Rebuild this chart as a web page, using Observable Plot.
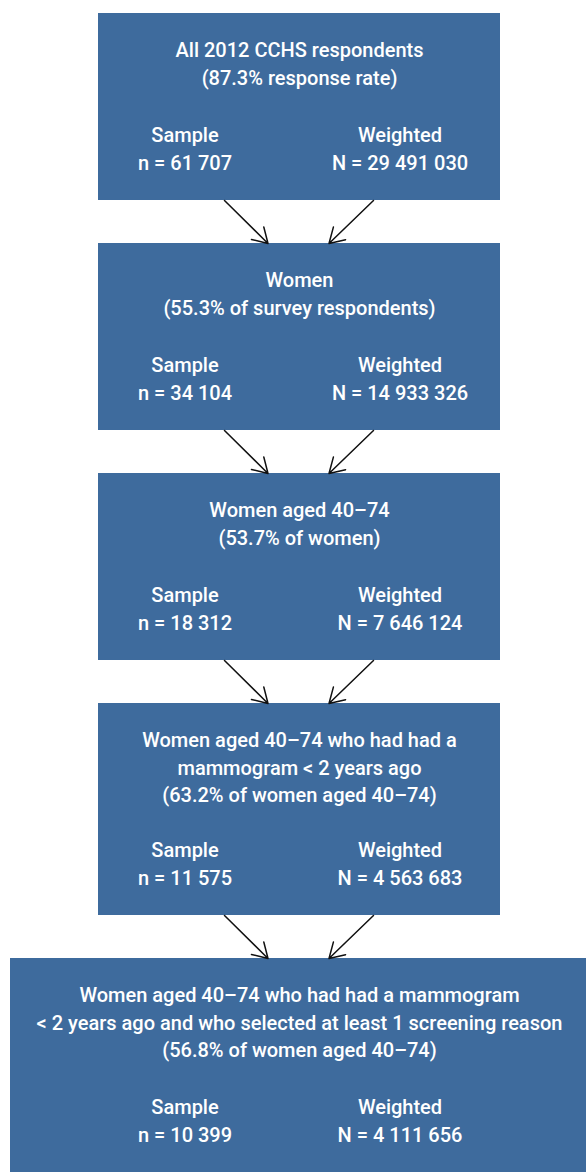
<!DOCTYPE html>
<html>
<head>
<meta charset="utf-8">
<script src="https://cdn.jsdelivr.net/npm/d3@7"></script>
<script src="https://cdn.jsdelivr.net/npm/@observablehq/plot@0.6"></script>
<style>
  html, body { margin: 0; padding: 0; background: #ffffff; }
  #chart svg { display: block; }
</style>
</head>
<body>
<div id="chart"></div>
<script>
// ---- Data ----
const stageLabels = [
  "All 2012 CCHS respondents",
  "Women",
  "Women aged 40–74",
  "Women aged 40–74 who had had a\nmammogram < 2 years ago",
  "Women aged 40–74 who had had a mammogram\n< 2 years ago and who selected at least 1 screening reason"
];
const percentLabels = [
  "87.3% response rate",
  "55.3% of survey respondents",
  "53.7% of women",
  "63.2% of women aged 40–74",
  "56.8% of women aged 40–74"
];
const sampleN = [61707, 34104, 18312, 11575, 10399];
const weightedN = [29491030, 14933326, 7646124, 4563683, 4111656];
const columnHeaders = ["Sample", "Weighted"];

// ---- Layout (computed) ----
const W = 586, H = 1172;
const fmt = v => String(v).replace(/\B(?=(\d{3})+(?!\d))/g, " ");
const boxes = [];
let boxTop = 13;
stageLabels.forEach((label, i) => {
  const lines = label.split("\n").concat([`(${percentLabels[i]})`]);
  const h = lines.length > 2 ? 212 : 187;
  const last = i === stageLabels.length - 1;
  const x1 = last ? 10 : 98;
  const x2 = last ? 586 : 500;
  const y2 = last ? H : boxTop + h;
  boxes.push({i, lines, x1, x2, y1: boxTop, y2, cx: 299});
  boxTop = y2 + 43;
});

const texts = [];
boxes.forEach(b => {
  b.lines.forEach((t, k) => texts.push({x: b.cx, y: b.y1 + 37.5 + k * 27.5, t}));
  texts.push({x: 184.5, y: b.y2 - 65, t: columnHeaders[0]});
  texts.push({x: 399.5, y: b.y2 - 65, t: columnHeaders[1]});
  texts.push({x: 184.5, y: b.y2 - 37, t: `n = ${fmt(sampleN[b.i])}`});
  texts.push({x: 399.5, y: b.y2 - 37, t: `N = ${fmt(weightedN[b.i])}`});
});

const arrows = [];
for (let i = 0; i < boxes.length - 1; i++) {
  const a = boxes[i], b = boxes[i + 1];
  arrows.push({x1: 224, y1: a.y2, x2: 267.5, y2: b.y1});
  arrows.push({x1: 373, y1: a.y2, x2: 328.5, y2: b.y1});
}

const chart = Plot.plot({
  width: W,
  height: H,
  margin: 0,
  style: {background: "#ffffff", fontFamily: "Roboto, sans-serif"},
  x: {domain: [0, W], range: [0, W], axis: null},
  y: {domain: [0, H], range: [0, H], axis: null},
  marks: [
    Plot.rect(boxes, {x1: "x1", x2: "x2", y1: "y1", y2: "y2", fill: "#3e6b9d"}),
    Plot.arrow(arrows, {x1: "x1", y1: "y1", x2: "x2", y2: "y2", stroke: "#111", strokeWidth: 1.5, headLength: 17, headAngle: 62}),
    Plot.text(texts, {x: "x", y: "y", text: "t", fill: "white", fontSize: 20, fontWeight: 500, lineAnchor: "middle", textAnchor: "middle"})
  ]
});
document.getElementById("chart").appendChild(chart);
</script>
</body>
</html>
